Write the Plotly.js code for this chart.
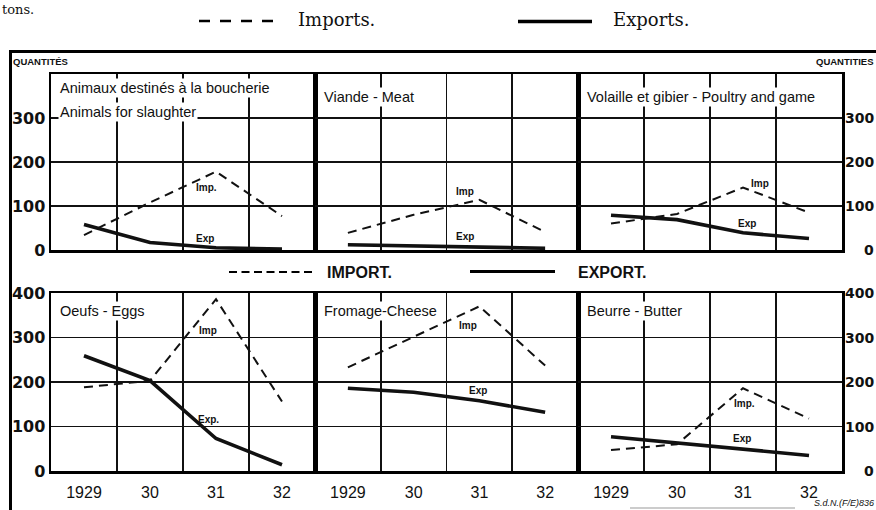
<!DOCTYPE html>
<html>
<head>
<meta charset="utf-8">
<script src="https://cdn.plot.ly/plotly-3.0.1.min.js"></script>
<style>html,body{margin:0;padding:0;background:#fff;}#chart{width:876px;height:510px;}</style>
</head>
<body>
<div id="chart"></div>
<script>
// ---- data ----
const years = [1929, 1930, 1931, 1932];
const yearLabels = ["1929", "30", "31", "32"];
const topTicks = [0, 100, 200, 300];
const bottomTicks = [0, 100, 200, 300, 400];

const animalsImp = [34, 108, 178, 77];
const animalsExp = [58, 17, 5, 2];
const meatImp = [39, 80, 114, 41];
const meatExp = [12, 10, 7, 4];
const poultryImp = [60, 82, 142, 85];
const poultryExp = [79, 69, 39, 26];
const eggsImp = [188, 203, 386, 156];
const eggsExp = [259, 203, 73, 14];
const cheeseImp = [233, 301, 370, 237];
const cheeseExp = [186, 177, 158, 132];
const butterImp = [47, 60, 186, 118];
const butterExp = [77, 63, 50, 35];

const panelTitles = [
  ["Animaux destinés à la boucherie", "Animals for slaughter"],
  ["Viande - Meat"],
  ["Volaille et gibier - Poultry and game"],
  ["Oeufs - Eggs"],
  ["Fromage-Cheese"],
  ["Beurre - Butter"]
];
const impLabels = ["Imp.", "Imp", "Imp", "Imp", "Imp", "Imp."];
const expLabels = ["Exp", "Exp", "Exp", "Exp.", "Exp", "Exp"];
// label anchor positions (data coords)
const impLabelPos = [[1930.86, 143], [1930.78, 132], [1931.26, 152], [1930.88, 315], [1930.83, 328], [1931.03, 151]];
const expLabelPos = [[1930.83, 27], [1930.78, 30], [1931.06, 61], [1930.88, 115], [1930.98, 180], [1930.99, 74]];

const imports = [animalsImp, meatImp, poultryImp, eggsImp, cheeseImp, butterImp];
const exports_ = [animalsExp, meatExp, poultryExp, eggsExp, cheeseExp, butterExp];

// ---- geometry helpers ----
const W = 876, H = 510;
const px = x => x / W;
const py = y => 1 - y / H;
const colX = [[51, 315], [315, 578], [578, 842]];
const rowY = [[74, 250], [293, 471]];

const INK = '#111';
const traces = [];
const layout = {
  width: W, height: H, autosize: false,
  margin: {l: 0, r: 0, t: 0, b: 0},
  paper_bgcolor: '#fff', plot_bgcolor: '#fff',
  showlegend: false,
  font: {family: 'Liberation Sans, Arial, sans-serif', color: INK},
  annotations: [], shapes: []
};

for (let i = 0; i < 6; i++) {
  const s = i === 0 ? '' : String(i + 1);
  const row = i < 3 ? 0 : 1;
  const col = i % 3;
  traces.push({
    x: years, y: imports[i], type: 'scatter', mode: 'lines',
    xaxis: 'x' + s, yaxis: 'y' + s,
    line: {color: INK, width: 2, dash: '9px,6px'}, hoverinfo: 'skip'
  });
  traces.push({
    x: years, y: exports_[i], type: 'scatter', mode: 'lines',
    xaxis: 'x' + s, yaxis: 'y' + s,
    line: {color: INK, width: 3.6}, hoverinfo: 'skip'
  });
  const yt = col === 0 && row === 0 ? topTicks : bottomTicks;
  layout['xaxis' + s] = {
    domain: [px(colX[col][0]), px(colX[col][1])],
    anchor: 'y' + s,
    range: [1928.5, 1932.5], fixedrange: true,
    tickmode: 'array', tickvals: years, ticktext: yearLabels,
    showticklabels: row === 1,
    ticks: 'outside', ticklen: 5, tickcolor: 'rgba(0,0,0,0)',
    tickfont: {family: 'Liberation Sans, Arial, sans-serif', size: 16, color: INK},
    showgrid: false, zeroline: false,
    minor: {tickmode: 'array', tickvals: [1929.5, 1930.5, 1931.5], showgrid: true, gridcolor: INK, gridwidth: 1.8, ticks: ''},
    showline: true, mirror: true, linecolor: '#000', linewidth: 2.5
  };
  layout['yaxis' + s] = {
    domain: [py(rowY[row][1]), py(rowY[row][0])],
    anchor: 'x' + s,
    range: [0, 400], fixedrange: true,
    tickmode: 'array',
    tickvals: yt,
    ticktext: yt.map(String),
    showticklabels: col === 0,
    ticks: '',
    tickfont: {family: 'DejaVu Sans, sans-serif', size: 16, color: INK, weight: 'bold'},
    showgrid: true, gridcolor: INK, gridwidth: 1.8, zeroline: false,
    showline: true, mirror: true, linecolor: '#000', linewidth: 2.5
  };
  // right side tick labels
  if (col === 2) {
    const rt = row === 0 ? topTicks : bottomTicks;
    rt.forEach(v => layout.annotations.push({
      xref: 'paper', yref: 'y' + s, x: 876 / W, y: v, xanchor: 'right', yanchor: 'middle',
      text: '<b>' + v + '</b>', showarrow: false,
      font: {family: 'DejaVu Sans, sans-serif', size: 14, color: INK}
    }));
  }
  // panel titles
  const titleFont = {family: 'Liberation Sans, Arial, sans-serif', size: 14.5, color: INK};
  const tx = colX[col][0] + 7;
  panelTitles[i].forEach((t, k) => {
    const ty = row === 0 ? (i === 0 ? [88, 112][k] : 97) : 311;
    layout.annotations.push({
      xref: 'paper', yref: 'paper', x: px(tx), y: py(ty), xanchor: 'left', yanchor: 'middle',
      text: t, showarrow: false, bgcolor: '#fff', borderpad: 1, font: titleFont
    });
  });
  // Imp / Exp small labels
  const lblFont = {family: 'Liberation Sans, Arial, sans-serif', size: 10, color: INK};
  layout.annotations.push({
    xref: 'x' + s, yref: 'y' + s, x: impLabelPos[i][0], y: impLabelPos[i][1],
    text: '<b>' + impLabels[i] + '</b>', showarrow: false, font: lblFont
  });
  layout.annotations.push({
    xref: 'x' + s, yref: 'y' + s, x: expLabelPos[i][0], y: expLabelPos[i][1],
    text: '<b>' + expLabels[i] + '</b>', showarrow: false, font: lblFont
  });
}

// ---- frame, legends, decorations ----
const line = (x0, y0, x1, y1, w, dash) => ({
  type: 'line', xref: 'paper', yref: 'paper',
  x0: px(x0), y0: py(y0), x1: px(x1), y1: py(y1),
  line: {color: '#000', width: w, dash: dash || 'solid'}
});
layout.shapes.push(line(10, 51.5, 876, 51.5, 3));
layout.shapes.push(line(10.5, 50, 10.5, 510, 3));
// top legend
layout.shapes.push(line(199, 21, 277, 21, 2.5, '11px,10px'));
layout.shapes.push(line(518, 21.5, 592, 21.5, 3.5));
// middle legend
layout.shapes.push(line(229, 272, 316, 272, 2, '8px,4.5px'));
layout.shapes.push(line(470, 271.5, 555, 271.5, 3));
// faint bottom rule
layout.shapes.push({type: 'line', xref: 'paper', yref: 'paper', x0: px(630), y0: py(508), x1: px(795), y1: py(508), line: {color: '#999', width: 1}});

const ann = (x, y, text, font, xanchor) => layout.annotations.push({
  xref: 'paper', yref: 'paper', x: px(x), y: py(y), xanchor: xanchor || 'left', yanchor: 'middle',
  text: text, showarrow: false, font: font
});
const serif = {family: 'DejaVu Serif, Liberation Serif, serif', size: 18, color: INK};
ann(0, 9, 'tons.', {family: 'DejaVu Serif, Liberation Serif, serif', size: 13, color: INK});
ann(296, 20, 'Imports.', serif);
ann(611, 20, 'Exports.', serif);
const boldSans = {family: 'Liberation Sans, Arial, sans-serif', size: 16, color: INK};
ann(325, 272, '<b>IMPORT.</b>', boldSans);
ann(576, 272, '<b>EXPORT.</b>', boldSans);
const smallCaps = {family: 'Liberation Sans, Arial, sans-serif', size: 9.5, color: INK};
ann(11, 61, '<b>QUANTITÉS</b>', smallCaps);
ann(876, 61, '<b>QUANTITIES</b>', smallCaps, 'right');
ann(876, 503, '<i>S.d.N.(F/E)836</i>', {family: 'Liberation Sans, Arial, sans-serif', size: 9, color: INK}, 'right');

Plotly.newPlot('chart', traces, layout, {staticPlot: true, displayModeBar: false});
</script>
</body>
</html>
